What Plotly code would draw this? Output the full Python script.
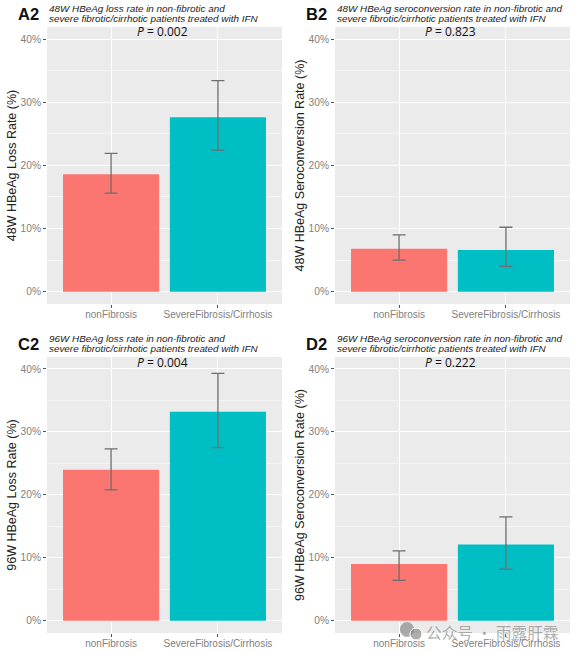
import plotly.graph_objects as go

W, H = 577, 654
categories = ["nonFibrosis", "SevereFibrosis/Cirrhosis"]
tick_values = [0, 10, 20, 30, 40]
tick_labels = ["0%", "10%", "20%", "30%", "40%"]
minor_values = [5, 15, 25, 35]
colors = ["#FB7670", "#00BFC4"]

panel_ids = ["A2", "B2", "C2", "D2"]
subtitles_line1 = [
    "48W HBeAg loss rate in non-fibrotic and",
    "48W HBeAg seroconversion rate in non-fibrotic and",
    "96W HBeAg loss rate in non-fibrotic and",
    "96W HBeAg seroconversion rate in non-fibrotic and",
]
subtitle_line2 = "severe fibrotic/cirrhotic patients treated with IFN"
y_titles = ["48W HBeAg Loss Rate (%)", "48W HBeAg Seroconversion Rate (%)",
            "96W HBeAg Loss Rate (%)", "96W HBeAg Seroconversion Rate (%)"]
p_values = ["0.002", "0.823", "0.004", "0.222"]

rate_a = [18.6, 27.6]
low_a = [15.6, 22.4]
high_a = [21.9, 33.4]
rate_b = [6.8, 6.6]
low_b = [5.0, 4.0]
high_b = [9.0, 10.2]
rate_c = [24.0, 33.2]
low_c = [20.8, 27.5]
high_c = [27.3, 39.3]
rate_d = [9.0, 12.1]
low_d = [6.4, 8.2]
high_d = [11.1, 16.5]

rates = [rate_a, rate_b, rate_c, rate_d]
lows = [low_a, low_b, low_c, low_d]
highs = [high_a, high_b, high_c, high_d]

# panel boxes in pixels: left, right, top, bottom
boxes = [(47, 282, 27, 304), (335, 570, 27, 304), (47, 282, 357, 633), (335, 570, 357, 633)]

fig = go.Figure()
annotations = []
for i in range(4):
    left, right, top, bottom = boxes[i]
    sfx = "" if i == 0 else str(i + 1)
    fig.add_trace(go.Bar(
        x=categories, y=rates[i], xaxis="x" + sfx, yaxis="y" + sfx, width=0.9,
        marker=dict(color=colors, line=dict(width=0)), showlegend=False,
        error_y=dict(type="data", symmetric=False,
                     array=[h - r for h, r in zip(highs[i], rates[i])],
                     arrayminus=[r - l for r, l in zip(rates[i], lows[i])],
                     color="#6e6e6e", thickness=1.3, width=6.5),
    ))
    fig.update_layout({
        "xaxis" + sfx: dict(
            domain=[left / W, right / W], anchor="y" + sfx, type="category",
            categoryorder="array", categoryarray=categories, range=[-0.6, 1.6],
            showgrid=True, gridcolor="white", gridwidth=1.4, zeroline=False,
            ticks="outside", ticklen=3, tickwidth=1, tickcolor="#555555", ticklabelstandoff=-2,
            tickfont=dict(family="Liberation Sans", size=10, color="#7f7f7f"),
        ),
        "yaxis" + sfx: dict(
            domain=[1 - bottom / H, 1 - top / H], anchor="x" + sfx, range=[-1.95, 41.9],
            tickvals=tick_values, ticktext=tick_labels, showgrid=True,
            gridcolor="white", gridwidth=1.4, zeroline=False,
            ticks="outside", ticklen=3, tickwidth=1, tickcolor="#555555",
            tickfont=dict(family="Liberation Sans", size=10.2, color="#7f7f7f"),
            minor=dict(tickvals=minor_values, showgrid=True, gridcolor="#F5F5F5", gridwidth=0.8, ticks=""),
            title=dict(text=y_titles[i], standoff=1,
                       font=dict(family="Liberation Sans", size=12.5, color="#222222")),
        ),
    })
    annotations += [
        dict(text="<b>%s</b>" % panel_ids[i], x=(left - 31) / W, y=1 - (top - 13) / H,
             xref="paper", yref="paper", xanchor="left", yanchor="middle", showarrow=False,
             font=dict(family="Liberation Sans", size=16.5, color="#111111")),
        dict(text="<i>%s</i>" % subtitles_line1[i], x=left / W, y=1 - (top - 18.5) / H,
             xref="paper", yref="paper", xanchor="left", yanchor="middle", showarrow=False,
             font=dict(family="Liberation Sans", size=9.9, color="#222222")),
        dict(text="<i>%s</i>" % subtitle_line2, x=left / W, y=1 - (top - 8.5) / H,
             xref="paper", yref="paper", xanchor="left", yanchor="middle", showarrow=False,
             font=dict(family="Liberation Sans", size=9.9, color="#222222")),
        dict(text="<i>P</i> = %s" % p_values[i], x=(left + 115) / W, y=1 - (top + 5) / H,
             xref="paper", yref="paper", xanchor="center", yanchor="middle", showarrow=False,
             font=dict(family="Open Sans", size=12, color="#111111")),
    ]

annotations.append(dict(text="公众号 · 雨露肝霖", x=424 / W, y=1 - 632 / H, xref="paper", yref="paper",
                        xanchor="left", yanchor="middle", showarrow=False,
                        font=dict(family="Noto Sans CJK SC", size=15.7, color="rgba(130,130,130,0.65)")))

fig.update_layout(
    width=W, height=H, autosize=False, margin=dict(l=0, r=0, t=0, b=0),
    paper_bgcolor="white", plot_bgcolor="#EBEBEB", annotations=annotations,
    shapes=[
        dict(type="circle", xref="paper", yref="paper", x0=400 / W, x1=414 / W, y0=1 - 637 / H, y1=1 - 622 / H,
             fillcolor="rgba(130,130,130,0.65)", line_width=0),
        dict(type="circle", xref="paper", yref="paper", x0=410 / W, x1=422 / W, y0=1 - 640 / H, y1=1 - 628 / H,
             fillcolor="rgba(130,130,130,0.65)", line=dict(color="white", width=1)),
    ],
)
fig.write_html("out.html", config={"displayModeBar": False},
               post_script="document.body.style.margin='0';")
